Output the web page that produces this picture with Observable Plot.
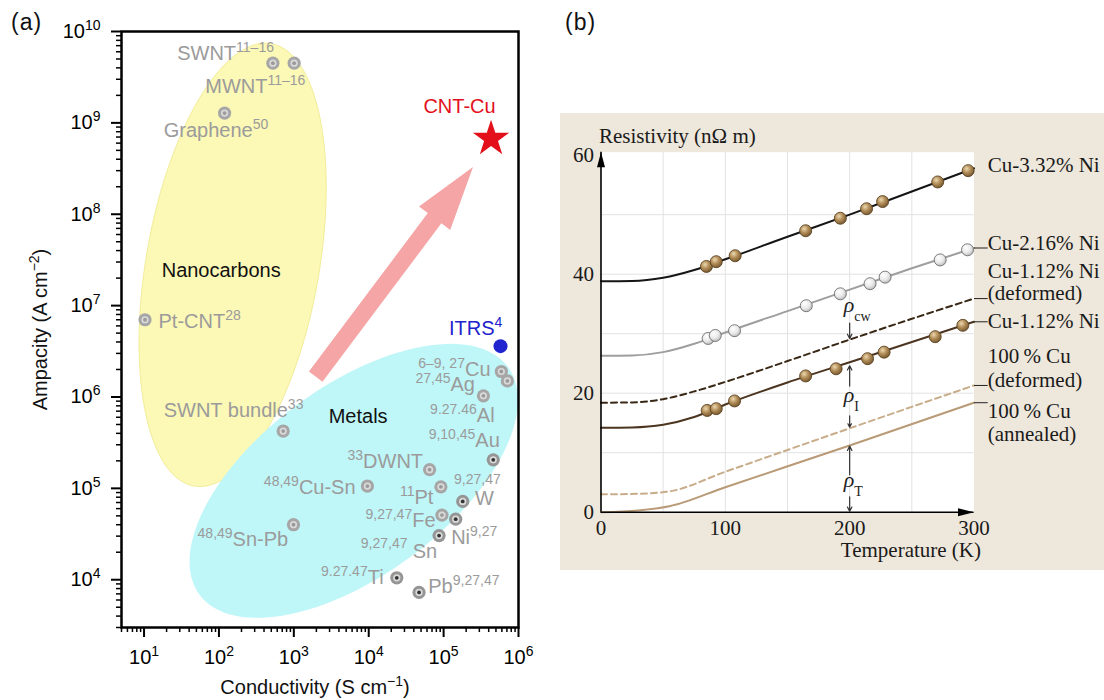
<!DOCTYPE html>
<html><head><meta charset="utf-8">
<script src="https://cdn.jsdelivr.net/npm/d3@7"></script>
<script src="https://cdn.jsdelivr.net/npm/@observablehq/plot@0.6"></script>
<style>
body{margin:0;background:#fff;width:1104px;height:700px;overflow:hidden;position:relative}
#a{position:absolute;left:0;top:0}
#b{position:absolute;left:560px;top:113px}
.tag{position:absolute;font-family:"Liberation Sans",Arial,sans-serif;font-size:23px;letter-spacing:1px;color:#111;line-height:normal}
</style></head><body>
<svg width="0" height="0" style="position:absolute"><defs>
<radialGradient id="ballBrown" cx="38%" cy="34%" r="66%"><stop offset="0%" stop-color="#ecd9b0"/><stop offset="50%" stop-color="#b38e59"/><stop offset="100%" stop-color="#7a5b31"/></radialGradient>
<radialGradient id="ballWhite" cx="38%" cy="34%" r="66%"><stop offset="0%" stop-color="#ffffff"/><stop offset="60%" stop-color="#e9e9e9"/><stop offset="100%" stop-color="#bdbdbd"/></radialGradient>
</defs></svg>
<div class="tag" style="left:11px;top:9px">(a)</div>
<div class="tag" style="left:565px;top:9px">(b)</div>
<div id="a"></div><div id="b"></div>
<script>
// ---------------- Panel (a) data ----------------
const condDomain = [5, 1e6];
const ampDomain = [3000, 1e10];
const xMajorExp = [1, 2, 3, 4, 5, 6];
const yMajorExp = [4, 5, 6, 7, 8, 9, 10];

const matNames = ["SWNT","MWNT","Graphene","Pt-CNT","SWNT bundle","Cu","Ag","Al","Au","DWNT","Cu-Sn","Pt","W","Fe","Ni","Sn","Sn-Pb","Ti","Pb"];
const matCond  = [525, 1010, 119, 10.3, 721, 5.9e5, 7.1e5, 3.4e5, 4.6e5, 6.5e4, 9.6e3, 9.2e4, 1.8e5, 9.5e4, 1.45e5, 8.7e4, 990, 2.37e4, 4.7e4];
const matAmp   = [4.5e9, 4.5e9, 1.28e9, 7.0e6, 4.24e5, 1.9e6, 1.5e6, 1.03e6, 2.05e5, 1.6e5, 1.06e5, 1.04e5, 7.2e4, 5.1e4, 4.6e4, 3.04e4, 4.0e4, 1.05e4, 7.26e3];
const matDark  = [false,false,false,false,false,false,false,false,true,false,false,false,true,false,true,true,false,true,true];

const cntCu = [{name: "CNT-Cu", cond: 4.3e5, amp: 6.7e8}];
const itrs = [{name: "ITRS", cond: 5.75e5, amp: 3.6e6}];

// region ellipses (log10 units): centre, conjugate half-axes
const regionNames  = ["Nanocarbons", "Metals"];
const regionCenter = [[2.183, 7.446], [3.80, 5.082]];
const regionAxisA  = [[0.515, 2.421], [2.06, 1.245]];
const regionAxisB  = [[1.139, -0.163], [0.751, -0.836]];
const regionFill   = ["#fcf8b6", "#bff6f8"];

// trend arrow (from, to) in data units
const trendFrom = [1960, 1.67e6];
const trendTo   = [2.47e5, 3.29e8];

// labels (a)
const labText = ["SWNT^{11–16}","MWNT^{11–16}","Graphene^{50}","Pt-CNT^{28}","SWNT bundle^{33}",
  "^{6–9, 27}Cu","^{27,45}Ag","^{9.27.46}Al","^{9,10,45}Au","^{33}DWNT","^{48,49}Cu-Sn","^{11}Pt",
  "^{9,27,47}","W","^{9,27,47}Fe","Ni^{9,27}","^{9,27,47}","Sn","^{48,49}Sn-Pb","^{9.27.47}Ti","Pb^{9,27,47}"];
const labX = [27.7, 65.6, 18.3, 15.6, 18.3, 4.23e5, 2.62e5, 4.8e5, 5.63e5, 5.32e4, 6.68e3, 7.31e4,
  1.38e5, 2.62e5, 7.8e4, 1.26e5, 3.3e4, 3.87e4, 841, 1.58e4, 6.24e4];
const labY = [4.93e9, 2.14e9, 7.05e8, 5.66e6, 5.98e5, 1.68e6, 1.15e6, 5.27e5, 2.8e5, 1.69e5, 8.57e4, 6.82e4,
  9.2e4, 6.65e4, 3.82e4, 2.48e4, 1.83e4, 1.75e4, 2.36e4, 9.04e3, 7.21e3];
const labAnchor = ["start","start","start","start","start","end","end","end","end","end","end","end",
  "start","start","end","start","end","start","end","end","start"];

const keyText = ["CNT-Cu", "ITRS^{4}", "Nanocarbons", "Metals"];
const keyX = [1.63e5, 1.18e5, 17.2, 2.92e3];
const keyY = [1.29e9, 4.75e6, 2.06e7, 5.14e5];
const keyAnchor = ["middle", "start", "start", "start"];
const keyColor = ["#e3101b", "#2222cc", "#111", "#111"];

// ---------------- Panel (b) data ----------------
const tempTicks = [0, 100, 200, 300];
const rhoTicks = [0, 20, 40, 60];
const tempGrid = [50, 100, 150, 200, 250];
const rhoGrid = [10, 20, 30, 40, 50];

const temps = [0, 25, 50, 75, 100, 150, 200, 250, 300];
const rhoCu332 = [38.8, 38.85, 39.4, 40.7, 42.5, 46.3, 50.0, 53.9, 57.8];
const rhoCu216 = [26.3, 26.35, 26.9, 28.3, 30.2, 33.8, 37.4, 41.0, 44.4];
const rhoCu112def = [18.4, 18.45, 19.0, 20.3, 21.9, 25.4, 29.0, 32.5, 35.9];
const rhoCu112 = [14.2, 14.25, 14.7, 16.0, 18.1, 21.8, 25.2, 28.6, 32.0];
const tempsCu = [0, 30, 55, 100, 200, 300];
const rhoCuDef = [3.0, 3.1, 3.5, 6.8, 14.1, 21.3];
const rhoCuAnn = [0, 0.3, 1.0, 4.2, 11.2, 18.4];

const ptT332 = [84.8, 92.7, 107.9, 164.6, 192.5, 213.6, 226.5, 270.8, 295.3];
const ptR332 = [41.3, 42.1, 43.1, 47.3, 49.4, 51.0, 52.2, 55.5, 57.4];
const ptT216 = [86.2, 91.9, 107.4, 165.1, 192.5, 216.4, 228.5, 272.8, 294.8];
const ptR216 = [29.2, 29.7, 30.5, 34.7, 36.7, 38.4, 39.5, 42.4, 44.1];
const ptT112 = [85.4, 92.7, 107.4, 164.6, 189.1, 214.4, 227.7, 268.8, 291.0];
const ptR112 = [17.1, 17.4, 18.7, 22.9, 24.1, 25.8, 26.9, 29.5, 31.4];

const seriesLabels = ["Cu-3.32% Ni", "Cu-2.16% Ni", "Cu-1.12% Ni", "(deformed)", "Cu-1.12% Ni", "100\u2009% Cu", "(deformed)", "100\u2009% Cu", "(annealed)"];
const seriesLabelY = [57.1, 44.1, 39.4, 35.6, 30.9, 25.0, 21.0, 15.9, 12.0];

const rhoArrowFrom = [31.8, 21.2, 16.2, 6.3, 2.6];
const rhoArrowTo   = [29.2, 24.6, 14.3, 11.1, 0.15];
const rhoText = ["ρ_{cw}", "ρ_{I}", "ρ_{T}"];
const rhoTextY = [33.6, 18.5, 4.2];
const rhoT = 200;

// ---------------- helpers ----------------
const NS = "http://www.w3.org/2000/svg";
function richText(svg, supSize, supShift, subShift) {
  svg.querySelectorAll("text").forEach(t => {
    if (t.children.length) return;
    const s = t.textContent;
    if (!/[\^_]\{/.test(s)) return;
    const re = /([\^_])\{([^}]*)\}/g;
    let last = 0, m; const parts = [];
    while ((m = re.exec(s))) {
      if (m.index > last) parts.push({k: "n", s: s.slice(last, m.index)});
      parts.push({k: m[1] === "^" ? "sup" : "sub", s: m[2]});
      last = re.lastIndex;
    }
    if (last < s.length) parts.push({k: "n", s: s.slice(last)});
    t.textContent = "";
    let cur = 0;
    for (const p of parts) {
      const ts = document.createElementNS(NS, "tspan");
      const target = p.k === "sup" ? -supShift : p.k === "sub" ? subShift : 0;
      const dy = target - cur; cur = target;
      if (dy) ts.setAttribute("dy", dy);
      if (p.k !== "n") { ts.setAttribute("font-size", supSize); ts.setAttribute("font-style", "normal"); }
      ts.textContent = p.s;
      t.appendChild(ts);
    }
  });
}
function ellipsePts(c, a, b) {
  return d3.range(0, 361, 3).map(deg => {
    const t = deg * Math.PI / 180;
    return {x: Math.pow(10, c[0] + a[0]*Math.cos(t) + b[0]*Math.sin(t)),
            y: Math.pow(10, c[1] + a[1]*Math.cos(t) + b[1]*Math.sin(t))};
  });
}
function minorTicks(domain) {
  const out = [];
  for (let k = Math.floor(Math.log10(domain[0])); k < Math.log10(domain[1]); k++)
    for (let m = 2; m <= 9; m++) { const v = m * Math.pow(10, k); if (v >= domain[0] - 1e-9 && v <= domain[1]) out.push(v); }
  return out;
}
function polygon(sx, sy, pts) { return pts.map(([px, py]) => ({x: sx.invert(px), y: sy.invert(py)})); }

// ---------------- Panel (a) ----------------
const AW = 545, AH = 700, AML = 121, AMR = 27, AMT = 31, AMB = 73;
const sxA = Plot.scale({x: {type: "log", domain: condDomain, range: [AML, AW - AMR]}});
const syA = Plot.scale({y: {type: "log", domain: ampDomain, range: [AH - AMB, AMT]}});
function arrowPoly(from, to, shaft, headW, headL) {
  const x0 = sxA.apply(from[0]), y0 = syA.apply(from[1]), x1 = sxA.apply(to[0]), y1 = syA.apply(to[1]);
  const L = Math.hypot(x1 - x0, y1 - y0), ux = (x1 - x0) / L, uy = (y1 - y0) / L, nx = -uy, ny = ux;
  const bx = x1 - ux * headL, by = y1 - uy * headL;
  return polygon(sxA, syA, [[x0 + nx*shaft/2, y0 + ny*shaft/2], [bx + nx*shaft/2, by + ny*shaft/2], [bx + nx*headW/2, by + ny*headW/2], [x1, y1],
    [bx - nx*headW/2, by - ny*headW/2], [bx - nx*shaft/2, by - ny*shaft/2], [x0 - nx*shaft/2, y0 - ny*shaft/2]]);
}
const mats = matNames.map((n, i) => ({name: n, cond: matCond[i], amp: matAmp[i], dark: matDark[i]}));
const labs = labText.map((t, i) => ({t, x: labX[i], y: labY[i], a: labAnchor[i]}));
const keys = keyText.map((t, i) => ({t, x: keyX[i], y: keyY[i], a: keyAnchor[i], c: keyColor[i]}));
const textA = (anchor) => Plot.text(labs.filter(d => d.a === anchor), {x: "x", y: "y", text: "t", textAnchor: anchor, lineAnchor: "bottom", fill: "#9b9b9b"});
const keyA = (anchor) => Plot.text(keys.filter(d => d.a === anchor), {x: "x", y: "y", text: "t", textAnchor: anchor, lineAnchor: "bottom", fill: "c"});

const chartA = Plot.plot({
  width: AW, height: AH, marginLeft: AML, marginRight: AMR, marginTop: AMT, marginBottom: AMB,
  x: {type: "log", domain: condDomain},
  y: {type: "log", domain: ampDomain},
  style: {fontFamily: "'Liberation Sans', Arial, sans-serif", fontSize: "20px", color: "#000", background: "transparent", overflow: "visible"},
  marks: [
    ...regionNames.map((n, i) => Plot.line(ellipsePts(regionCenter[i], regionAxisA[i], regionAxisB[i]), {x: "x", y: "y", fill: regionFill[i], stroke: i === 0 ? "#eee98a" : "none", strokeWidth: 0.8})),
    Plot.line(arrowPoly(trendFrom, trendTo, 17, 39, 64), {x: "x", y: "y", fill: "#f5a5a5", stroke: "none"}),
    Plot.dot(mats, {x: "cond", y: "amp", r: 6.6, fill: d => d.dark ? "#959595" : "#a6a6a6"}),
    Plot.dot(mats, {x: "cond", y: "amp", r: 3.6, fill: "#dadada"}),
    Plot.dot(mats, {x: "cond", y: "amp", r: 1.9, fill: d => d.dark ? "#333333" : "#9a9a9a"}),
    Plot.dot(itrs, {x: "cond", y: "amp", r: 7, fill: "#2025d0"}),
    Plot.dot(cntCu, {x: "cond", y: "amp", symbol: "star", r: 11.4, fill: "#e3101b"}),
    textA("start"), textA("end"),
    keyA("start"), keyA("middle"),
    Plot.axisY(minorTicks(ampDomain), {tickSize: 5, tickFormat: () => "", strokeWidth: 1.5, label: null}),
    Plot.axisX(minorTicks(condDomain), {tickSize: 5, tickFormat: () => "", strokeWidth: 1.5, label: null}),
    Plot.axisY(yMajorExp.map(e => Math.pow(10, e)), {tickSize: 10, tickPadding: 11, strokeWidth: 2, label: null, tickFormat: d => "10^{" + Math.round(Math.log10(d)) + "}"}),
    Plot.axisX(xMajorExp.map(e => Math.pow(10, e)), {tickSize: 10, tickPadding: 12, strokeWidth: 2, label: null, tickFormat: d => "10^{" + Math.round(Math.log10(d)) + "}"}),
    Plot.frame({stroke: "#000", strokeWidth: 2.5}),
    Plot.text(["Ampacity (A cm^{−2})"], {frameAnchor: "left", rotate: -90, dx: -75, lineAnchor: "bottom", textAnchor: "middle", fill: "#111"}),
    Plot.text(["Conductivity (S cm^{−1})"], {frameAnchor: "bottom", dx: -5, dy: 66, lineAnchor: "bottom", textAnchor: "middle", fill: "#111"})
  ]
});
richText(chartA, 14, 8, 5);
document.getElementById("a").appendChild(chartA);

// ---------------- Panel (b) ----------------
const BW = 544, BH = 457, BML = 40.5, BMR = 130.5, BMT = 38.7, BMB = 58.3;
const tDomain = [0, 300], rDomain = [0, 60.5];
const sxB = Plot.scale({x: {domain: tDomain, range: [BML, BW - BMR]}});
const syB = Plot.scale({y: {domain: rDomain, range: [BH - BMB, BMT]}});
const yTip = [sxB.apply(0), syB.apply(rDomain[1])], xTip = [sxB.apply(tDomain[1]), syB.apply(0)];
const yHead = polygon(sxB, syB, [[yTip[0], yTip[1]], [yTip[0] - 4, yTip[1] + 15], [yTip[0] + 4, yTip[1] + 15]]);
const xHead = polygon(sxB, syB, [[xTip[0], xTip[1]], [xTip[0] - 16, xTip[1] - 4], [xTip[0] - 16, xTip[1] + 4]]);

const mk = (T, R) => T.map((t, i) => ({t, r: R[i]}));
const sCu332 = mk(temps, rhoCu332), sCu216 = mk(temps, rhoCu216), sCu112d = mk(temps, rhoCu112def), sCu112 = mk(temps, rhoCu112);
const sCuDef = mk(tempsCu, rhoCuDef), sCuAnn = mk(tempsCu, rhoCuAnn);
const leaderVals = [rhoCu216.at(-1), rhoCu112def.at(-1), rhoCu112.at(-1), rhoCuDef.at(-1), rhoCuAnn.at(-1)];
const sLabels = seriesLabels.map((t, i) => ({t, y: seriesLabelY[i]}));
const rhoArrows = rhoArrowFrom.map((f, i) => ({f, to: rhoArrowTo[i]}));
const rhoLabs = rhoText.map((t, i) => ({t, y: rhoTextY[i]}));
const lineOpts = {x: "t", y: "r", curve: "monotone-x", strokeWidth: 2};

const chartB = Plot.plot({
  width: BW, height: BH, marginLeft: BML, marginRight: BMR, marginTop: BMT, marginBottom: BMB,
  x: {domain: tDomain}, y: {domain: rDomain},
  style: {fontFamily: "'Liberation Serif', 'Times New Roman', serif", fontSize: "21px", color: "#1a1a1a", background: "#eee7db", overflow: "visible"},
  marks: [
    Plot.frame({fill: "#ffffff", stroke: "none"}),
    Plot.ruleX(tempGrid, {stroke: "#e2e2e2", strokeWidth: 1}),
    Plot.ruleY(rhoGrid, {stroke: "#e2e2e2", strokeWidth: 1}),
    Plot.line(sCuAnn, {...lineOpts, stroke: "#b99a76"}),
    Plot.line(sCuDef, {...lineOpts, stroke: "#c8ad8b", strokeDasharray: "6,4"}),
    Plot.line(sCu112, {...lineOpts, stroke: "#4b3520"}),
    Plot.line(sCu112d, {...lineOpts, stroke: "#3a2816", strokeDasharray: "6,4"}),
    Plot.line(sCu216, {...lineOpts, stroke: "#9e9e9e"}),
    Plot.line(sCu332, {...lineOpts, stroke: "#151515"}),
    Plot.dot(mk(ptT112, ptR112), {x: "t", y: "r", r: 6, fill: "url(#ballBrown)", stroke: "#5b4323", strokeWidth: 0.9}),
    Plot.dot(mk(ptT216, ptR216), {x: "t", y: "r", r: 6, fill: "url(#ballWhite)", stroke: "#6f6f6f", strokeWidth: 0.9}),
    Plot.dot(mk(ptT332, ptR332), {x: "t", y: "r", r: 6, fill: "url(#ballBrown)", stroke: "#5b4323", strokeWidth: 0.9}),
    Plot.ruleX([0], {stroke: "#000", strokeWidth: 1.6}),
    Plot.ruleY([0], {stroke: "#000", strokeWidth: 1.6}),
    Plot.line(yHead, {x: "x", y: "y", fill: "#000", stroke: "none"}),
    Plot.line(xHead, {x: "x", y: "y", fill: "#000", stroke: "none"}),
    Plot.arrow(rhoArrows, {x1: rhoT, x2: rhoT, y1: "f", y2: "to", stroke: "#333", strokeWidth: 1.2, headLength: 6, headAngle: 55}),
    Plot.text(rhoLabs, {x: rhoT, y: "y", text: "t", fontStyle: "italic", fontSize: 22, textAnchor: "start", dx: -6, lineAnchor: "bottom", fill: "#222"}),
    Plot.link(leaderVals, {x1: tDomain[1], x2: 311, y1: d => d, y2: d => d, stroke: "#222", strokeWidth: 1}),
    Plot.text(sLabels, {x: 311, y: "y", text: "t", textAnchor: "start", lineAnchor: "bottom", fill: "#1a1a1a"}),
    Plot.axisX(tempTicks, {tickSize: 0, tickPadding: 8, label: null}),
    Plot.axisY(rhoTicks, {tickSize: 0, tickPadding: 7, label: null}),
    Plot.text(["Resistivity (nΩ m)"], {frameAnchor: "top-left", dx: -2, dy: -9, textAnchor: "start", lineAnchor: "bottom"}),
    Plot.text(["Temperature (K)"], {frameAnchor: "bottom-right", dx: 7, dy: 45, textAnchor: "end", lineAnchor: "bottom"})
  ]
});
richText(chartB, 14, 8, 9);
document.getElementById("b").appendChild(chartB);
</script>
</body></html>
